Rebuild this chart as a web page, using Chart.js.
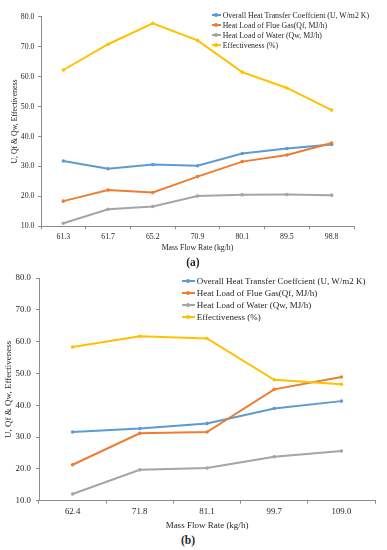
<!DOCTYPE html>
<html><head><meta charset="utf-8">
<script src="https://cdn.jsdelivr.net/npm/chart.js@4"></script>
<style>
html,body{margin:0;padding:0;background:#fff;}
body{width:387px;height:550px;position:relative;overflow:hidden;font-family:"Liberation Serif",serif;color:#262626;}
canvas{position:absolute;left:0;}
.leg{position:absolute;white-space:nowrap;}
.row{position:absolute;left:0;display:flex;align-items:center;}
.mk{position:relative;display:inline-block;height:2px;}
.mk i{position:absolute;left:50%;top:50%;width:4px;height:4px;border-radius:50%;transform:translate(-50%,-50%);background:inherit;}
.cap{position:absolute;font-weight:bold;font-size:11.5px;transform:translate(-50%,-50%);}
</style></head><body>
<canvas id="c1" width="387" height="255" style="top:0;width:387px;height:255px"></canvas>
<canvas id="c2" width="387" height="268" style="top:265px;width:387px;height:268px"></canvas>
<div id="legA" class="leg"></div>
<div id="legB" class="leg"></div>
<div class="cap" style="left:193px;top:262px">(a)</div>
<div class="cap" style="left:188px;top:540px">(b)</div>
<script>
// ---- data ----
const seriesNames = ["Overall Heat Transfer Coeffcient (U, W/m2 K)", "Heat Load of Flue Gas(Qf, MJ/h)", "Heat Load of Water (Qw, MJ/h)", "Effectiveness (%)"];
const flowA = ["61.3", "61.7", "65.2", "70.9", "80.1", "89.5", "98.8"];
const uA   = [31.8, 29.2, 30.6, 30.2, 34.3, 36.0, 37.3];
const qfA  = [18.4, 22.1, 21.3, 26.6, 31.6, 33.8, 37.8];
const qwA  = [11.0, 15.7, 16.6, 20.1, 20.5, 20.6, 20.4];
const effA = [62.2, 70.8, 77.8, 72.1, 61.5, 56.2, 48.8];
const flowB = ["62.4", "71.8", "81.1", "99.7", "109.0"];
const uB   = [31.6, 32.7, 34.3, 39.0, 41.3];
const qfB  = [21.3, 31.2, 31.6, 45.0, 48.9];
const qwB  = [12.1, 19.7, 20.3, 23.8, 25.6];
const effB = [58.3, 61.7, 61.0, 48.0, 46.6];
const yMin = 10, yMax = 80, yStep = 10;
const xTitle = "Mass Flow Rate (kg/h)";
const yTitle = "U, Qf & Qw, Effectiveness";
const colors = ["#5B9BD5", "#ED7D31", "#A5A5A5", "#FFC000"];

const FONT = "'Liberation Serif', serif";
const AXIS = "#8c8c8c";

function makeChart(id, labels, series, cfg) {
  const datasets = series.map((d, i) => ({
    label: seriesNames[i], data: d,
    borderColor: colors[i], backgroundColor: colors[i],
    pointBackgroundColor: colors[i], pointBorderColor: colors[i],
    borderWidth: 2, pointRadius: 1.8, pointBorderWidth: 0, tension: 0,
    order: 4 - i
  }));
  return new Chart(document.getElementById(id), {
    type: 'line',
    data: { labels, datasets },
    options: {
      responsive: false, animation: false, devicePixelRatio: 1,
      layout: { padding: { left: 0, right: cfg.padRight, top: cfg.padTop, bottom: 0 } },
      plugins: { legend: { display: false }, tooltip: { enabled: false } },
      scales: {
        x: {
          type: 'category', offset: true,
          grid: { display: true, drawOnChartArea: false, drawTicks: true, tickLength: 3, offset: true, color: AXIS, lineWidth: 1 },
          border: { display: true, color: AXIS, width: 1 },
          ticks: { color: "#262626", font: { family: FONT, size: cfg.tickSize }, padding: cfg.xPad, maxRotation: 0, autoSkip: false },
          title: { display: true, text: xTitle, color: "#262626", font: { family: FONT, size: cfg.titleSize }, padding: { top: 0, bottom: cfg.xTitlePad } },
          afterFit: s => { s.height = cfg.xHeight; }
        },
        y: {
          min: yMin, max: yMax,
          grid: { display: true, drawOnChartArea: false, drawTicks: true, tickLength: 3, color: AXIS, lineWidth: 1 },
          border: { display: true, color: AXIS, width: 1 },
          ticks: { stepSize: yStep, color: "#262626", font: { family: FONT, size: cfg.tickSize }, padding: cfg.yPad, callback: v => Number(v).toFixed(1) },
          title: { display: true, text: yTitle, color: "#262626", font: { family: FONT, size: cfg.titleSize }, padding: { top: cfg.yTitlePad, bottom: 0 } },
          afterFit: s => { s.width = cfg.yWidth; }
        }
      }
    }
  });
}

makeChart('c1', flowA, [uA, qfA, qwA, effA], {
  padRight: 33, padTop: 16.7, xHeight: 28.7, yWidth: 41,
  tickSize: 7.8, titleSize: 7.8, xPad: 3, yPad: 3.5, xTitlePad: 2, yTitlePad: 10.3
});
makeChart('c2', flowB, [uB, qfB, qwB, effB], {
  padRight: 12, padTop: 13, xHeight: 32.3, yWidth: 39,
  tickSize: 8.8, titleSize: 9, xPad: 2.6, yPad: 5, xTitlePad: 1.6, yTitlePad: 3.6
});

function buildLegend(id, left, top, rowGap, lineW, gap, size) {
  const el = document.getElementById(id);
  el.style.left = left + 'px'; el.style.top = top + 'px';
  seriesNames.forEach((n, i) => {
    const r = document.createElement('div');
    r.className = 'row';
    r.style.top = (i * rowGap) + 'px';
    r.style.height = '0px';
    r.style.fontSize = size + 'px';
    r.innerHTML = '<span class="mk" style="width:' + lineW + 'px;background:' + colors[i] + ';margin-right:' + gap + 'px"><i></i></span><span>' + n + '</span>';
    el.appendChild(r);
  });
}
buildLegend('legA', 211.7, 15, 10, 9.5, 1.5, 7.8);
buildLegend('legB', 181.7, 281, 11.9, 13, 2, 9);
</script>
</body></html>
